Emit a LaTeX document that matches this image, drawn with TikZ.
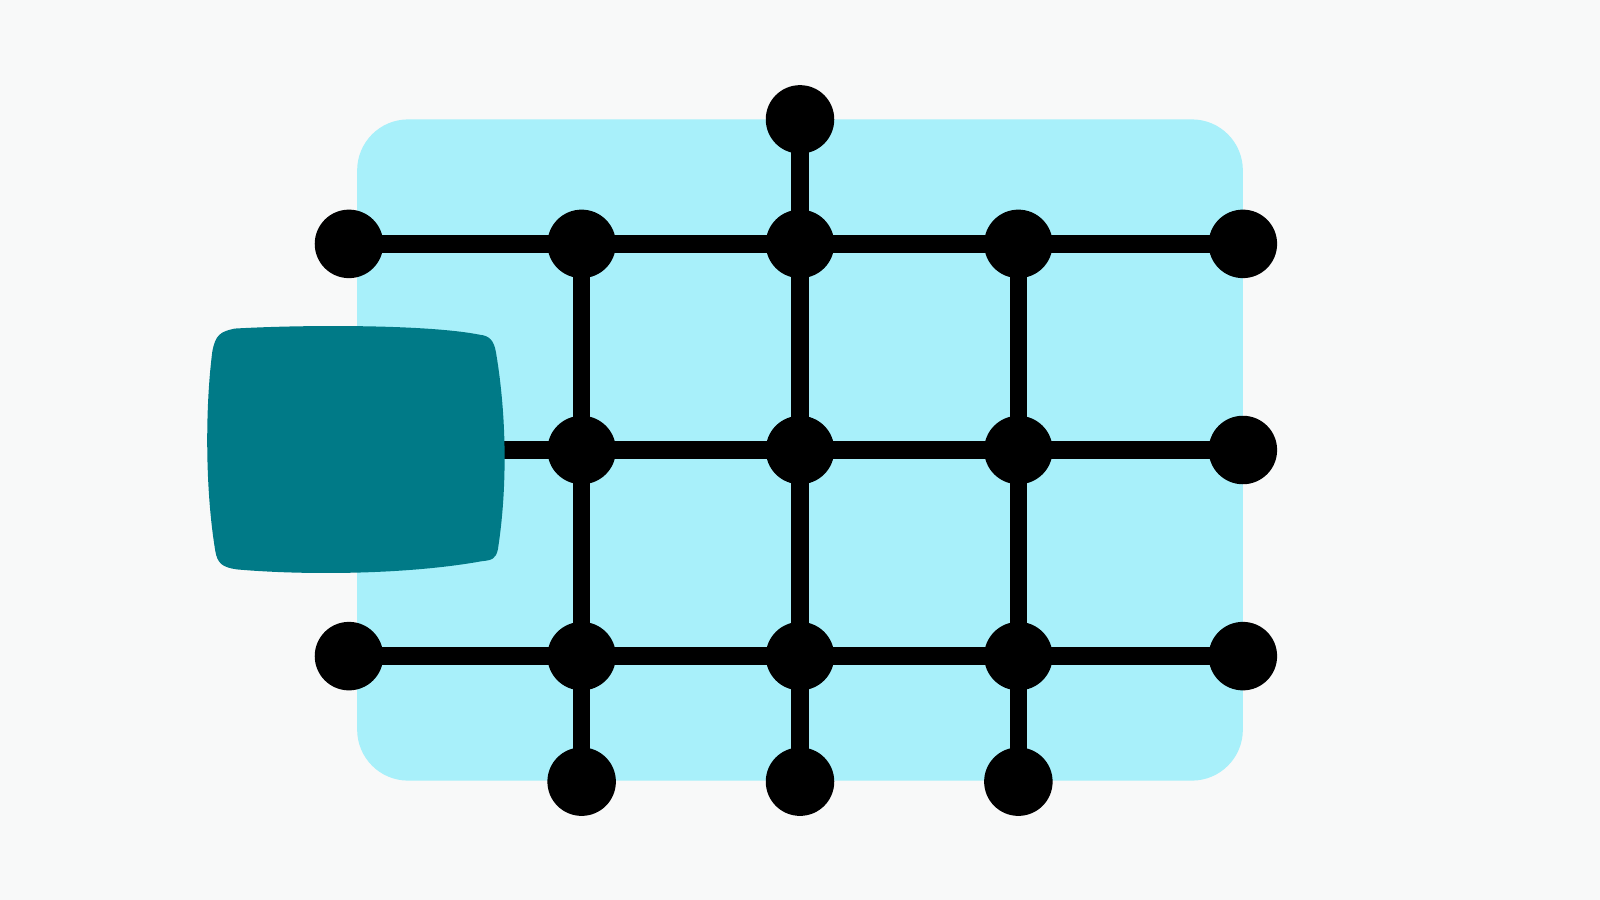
\documentclass[tikz,border=0pt]{standalone}
\definecolor{bg}{HTML}{F8F9F9}
\definecolor{panel}{HTML}{A8F0FA}
\definecolor{teal}{HTML}{007A87}
\pgfdeclarelayer{back}
\pgfdeclarelayer{edges}
\pgfsetlayers{back,edges,main}
\begin{document}
\begin{tikzpicture}[x=1.0204pt,y=-1.0204pt,
  dot/.style={circle,fill=black,minimum size=68.5pt,inner sep=0pt},
  link/.style={line width=17.5pt,draw=black}]
\begin{pgfonlayer}{back}
\fill[bg] (0,0) rectangle (1568,882);
\fill[panel,rounded corners=51pt] (350,117) rectangle (1218,765);
\end{pgfonlayer}
\useasboundingbox (0,0) rectangle (1568,882);
% teal box
\fill[teal] (230,322) .. controls (300,318) and (420,318) .. (470,328)
  .. controls (480,329) and (484,334) .. (486,345)
  .. controls (497,410) and (497,480) .. (488,538)
  .. controls (486,548) and (482,549) .. (472,550)
  .. controls (400,563) and (300,564) .. (232,558)
  .. controls (218,556) and (213,552) .. (211,540)
  .. controls (201,480) and (201,400) .. (208,345)
  .. controls (211,328) and (216,325) .. (230,322) -- cycle;
\node[minimum width=292pt,minimum height=240pt,inner sep=0pt] (box) at (349,441) {};
% nodes
\node[dot] (t) at (784,117) {};
\node[dot] (a1) at (342,239) {};
\node[dot] (a2) at (570,239) {};
\node[dot] (a3) at (784,239) {};
\node[dot] (a4) at (998,239) {};
\node[dot] (a5) at (1218,239) {};
\node[dot] (b2) at (570,441) {};
\node[dot] (b3) at (784,441) {};
\node[dot] (b4) at (998,441) {};
\node[dot] (b5) at (1218,441) {};
\node[dot] (c1) at (342,643) {};
\node[dot] (c2) at (570,643) {};
\node[dot] (c3) at (784,643) {};
\node[dot] (c4) at (998,643) {};
\node[dot] (c5) at (1218,643) {};
\node[dot] (d2) at (570,766) {};
\node[dot] (d3) at (784,766) {};
\node[dot] (d4) at (998,766) {};
% connectors
\begin{pgfonlayer}{edges}
\draw[link] (a1.center) -- (a2.center) -- (a3.center) -- (a4.center) -- (a5.center);
\draw[link] (box.east) -- (b2.center) -- (b3.center) -- (b4.center) -- (b5.center);
\draw[link] (c1.center) -- (c2.center) -- (c3.center) -- (c4.center) -- (c5.center);
\draw[link] (a2.center) -- (b2.center) -- (c2.center) -- (d2.center);
\draw[link] (t.center) -- (a3.center) -- (b3.center) -- (c3.center) -- (d3.center);
\draw[link] (a4.center) -- (b4.center) -- (c4.center) -- (d4.center);
\end{pgfonlayer}
\end{tikzpicture}
\end{document}
